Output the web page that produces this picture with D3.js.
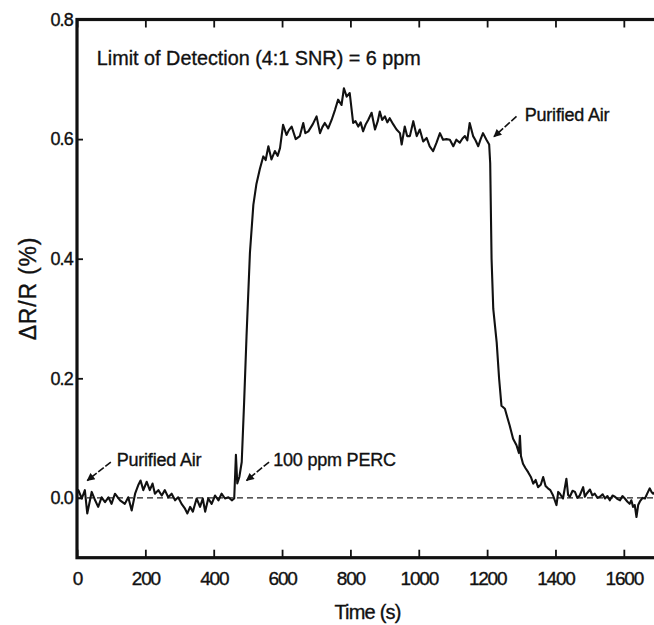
<!DOCTYPE html>
<html>
<head>
<meta charset="utf-8">
<script src="https://cdn.jsdelivr.net/npm/d3@7"></script>
<style>
  html, body { margin: 0; padding: 0; background: #fff; }
  svg { display: block; font-family: "Liberation Sans", Arial, sans-serif; }
  svg text { stroke: #111; stroke-width: 0.35px; }
</style>
</head>
<body>
<svg id="chart" width="654" height="625"></svg>
<script>
// time (s) and response (dR/R, %)
const times = [
  0, 4, 14, 23, 30, 43, 53, 62, 72, 82, 92, 101, 111, 126, 140, 150, 160, 170, 179, 186,
  194, 204, 213, 221, 228, 238, 248, 257, 267, 277, 287, 296, 306, 316, 323, 331, 339, 350, 360, 368,
  375, 384, 394, 404, 414, 423, 433, 443, 453, 460, 465, 469, 475, 482, 489, 496, 506, 516, 525, 535,
  545, 552, 560, 569, 579, 587, 594, 603, 613, 620, 628, 640, 652, 662, 668, 677, 690, 701, 711, 718,
  725, 735, 745, 755, 764, 774, 781, 789, 798, 808, 815, 823, 830, 837, 845, 852, 862, 872, 880, 886,
  893, 901, 908, 915, 925, 935, 945, 950, 959, 966, 974, 984, 994, 1003, 1013, 1023, 1032, 1042, 1052, 1062,
  1071, 1081, 1091, 1101, 1110, 1120, 1128, 1135, 1142, 1149, 1159, 1166, 1174, 1181, 1188, 1198, 1206, 1209, 1213, 1218,
  1228, 1235, 1242, 1252, 1259, 1266, 1276, 1286, 1293, 1296, 1299, 1305, 1312, 1320, 1328, 1335, 1342, 1349, 1357, 1364,
  1371, 1378, 1385, 1393, 1403, 1408, 1413, 1422, 1432, 1437, 1442, 1450, 1457, 1464, 1471, 1481, 1486, 1491, 1501, 1508,
  1515, 1523, 1530, 1538, 1545, 1552, 1559, 1567, 1574, 1582, 1589, 1596, 1603, 1610, 1617, 1622, 1627, 1632, 1637, 1642,
  1647, 1655, 1662, 1669, 1676, 1681, 1686, 1695
];
const response = [
  0.007, 0.013, -0.001, 0.013, -0.026, 0.010, -0.004, -0.015, 0.001, -0.007, 0.001, -0.010, 0.007, -0.004, -0.010, 0.001, -0.021, 0.007, 0.021, 0.029,
  0.013, 0.027, 0.013, 0.024, 0.007, 0.013, 0.004, 0.013, 0.001, 0.007, -0.004, 0.001, -0.010, -0.018, -0.026, -0.015, -0.023, -0.001, -0.015, -0.001,
  -0.023, -0.001, -0.010, 0.004, -0.004, 0.007, -0.001, 0.001, -0.004, -0.001, 0.072, 0.024, 0.035, 0.060, 0.160, 0.270, 0.410, 0.490, 0.525, 0.550,
  0.571, 0.565, 0.588, 0.566, 0.580, 0.572, 0.585, 0.624, 0.607, 0.615, 0.621, 0.600, 0.605, 0.627, 0.610, 0.613, 0.625, 0.638, 0.610, 0.620,
  0.627, 0.618, 0.632, 0.649, 0.666, 0.657, 0.685, 0.671, 0.677, 0.627, 0.630, 0.621, 0.628, 0.613, 0.625, 0.632, 0.644, 0.616, 0.630, 0.646,
  0.632, 0.638, 0.628, 0.635, 0.625, 0.616, 0.610, 0.591, 0.621, 0.605, 0.605, 0.630, 0.605, 0.616, 0.596, 0.602, 0.588, 0.580, 0.594, 0.610,
  0.599, 0.600, 0.599, 0.588, 0.599, 0.594, 0.601, 0.605, 0.598, 0.627, 0.605, 0.598, 0.588, 0.600, 0.610, 0.599, 0.591, 0.560, 0.400, 0.316,
  0.260, 0.200, 0.154, 0.149, 0.135, 0.121, 0.099, 0.088, 0.075, 0.104, 0.070, 0.057, 0.050, 0.043, 0.035, 0.024, 0.030, 0.018, 0.022, 0.035,
  0.020, 0.016, 0.013, 0.004, -0.012, 0.010, 0.007, -0.001, 0.032, 0.005, 0.002, 0.012, 0.010, 0.000, 0.004, 0.018, 0.002, 0.007, 0.014, 0.004,
  0.007, 0.000, 0.002, 0.006, -0.001, 0.003, -0.004, 0.004, 0.002, -0.002, -0.004, 0.003, -0.001, -0.006, -0.010, -0.004, -0.015, -0.012, -0.032, -0.012,
  -0.006, 0.000, -0.001, 0.008, 0.016, 0.010, 0.007, 0.012
];

const xTicks = [0, 200, 400, 600, 800, 1000, 1200, 1400, 1600];
const yTicks = [0.0, 0.2, 0.4, 0.6, 0.8];

// annotation anchors in data units
const notes = [
  { text: "Purified Air", tx: 116, ty: 0.054, from: [99, 0.060], to: [30, 0.029] },
  { text: "100 ppm PERC", tx: 574, ty: 0.054, from: [562, 0.060], to: [496, 0.029] },
  { text: "Purified Air", tx: 1310, ty: 0.630, from: [1286, 0.638], to: [1220, 0.604] },
];

const svg = d3.select("#chart");
const plotLeft = 77, plotTop = 19.5, plotRight = 658, plotBottom = 557.7;

const x = d3.scaleLinear().domain([0, 1700]).range([plotLeft, plotRight]);
const y = d3.scaleLinear().domain([-0.1, 0.8]).range([plotBottom, plotTop]);

const defs = svg.append("defs");
defs.append("marker")
  .attr("id", "head")
  .attr("viewBox", "0 0 10 10")
  .attr("refX", 9)
  .attr("refY", 5)
  .attr("markerWidth", 10)
  .attr("markerHeight", 8)
  .attr("markerUnits", "userSpaceOnUse")
  .attr("orient", "auto")
  .append("path")
  .attr("d", "M0,0 L10,5 L0,10 Z")
  .attr("fill", "#111");

// zero line
svg.append("line")
  .attr("x1", x(0)).attr("x2", x(1700))
  .attr("y1", y(0)).attr("y2", y(0))
  .attr("stroke", "#222")
  .attr("stroke-width", 1.4)
  .attr("stroke-dasharray", "6,4");

// trace
const pts = times.map((t, i) => [t, response[i]]);
svg.append("path")
  .datum(pts)
  .attr("fill", "none")
  .attr("stroke", "#111")
  .attr("stroke-width", 2.1)
  .attr("stroke-linejoin", "round")
  .attr("d", d3.line().x(d => x(d[0])).y(d => y(d[1])));

// axes (ticks point inward)
const styleAxis = (g) => {
  g.select(".domain").remove();
  g.selectAll(".tick line").attr("stroke", "#111").attr("stroke-width", 1.8);
  g.selectAll("text").attr("fill", "#111");
};

svg.append("g")
  .attr("transform", `translate(0,${plotBottom})`)
  .call(d3.axisBottom(x).tickValues(xTicks).tickSize(-8).tickPadding(14).tickFormat(d3.format("d")))
  .call(styleAxis)
  .call(g => g.selectAll("text")
    .style("font-size", "19px")
    .style("letter-spacing", "-1.2px"));

svg.append("g")
  .attr("transform", `translate(0,${plotTop})`)
  .call(d3.axisTop(x).tickValues(xTicks).tickSize(-8).tickFormat(""))
  .call(styleAxis);

svg.append("g")
  .attr("transform", `translate(${plotLeft},0)`)
  .call(d3.axisLeft(y).tickValues(yTicks).tickSize(-6).tickPadding(4).tickFormat(d3.format(".1f")))
  .call(styleAxis)
  .call(g => g.selectAll("text")
    .style("font-size", "18px")
    .style("letter-spacing", "-0.8px"));

// frame
svg.append("rect")
  .attr("x", plotLeft).attr("y", plotTop)
  .attr("width", plotRight - plotLeft).attr("height", plotBottom - plotTop)
  .attr("fill", "none")
  .attr("stroke", "#111")
  .attr("stroke-width", 3.2);

// axis titles
svg.append("text")
  .attr("x", (plotLeft + plotRight) / 2)
  .attr("y", 619)
  .attr("text-anchor", "middle")
  .attr("fill", "#111")
  .style("font-size", "20px")
  .style("letter-spacing", "-0.8px")
  .text("Time (s)");

svg.append("text")
  .attr("transform", `translate(36,${(plotTop + plotBottom) / 2}) rotate(-90)`)
  .attr("text-anchor", "middle")
  .attr("fill", "#111")
  .style("font-size", "23px")
  .style("letter-spacing", "0.8px")
  .text("ΔR/R (%)");

// detection limit note
svg.append("text")
  .attr("x", x(58))
  .attr("y", y(0.724))
  .attr("fill", "#111")
  .attr("textLength", 324)
  .attr("lengthAdjust", "spacingAndGlyphs")
  .style("font-size", "20px")
  .text("Limit of Detection (4:1 SNR) = 6 ppm");

// arrows + labels
const ann = svg.selectAll(".note").data(notes).enter().append("g").attr("class", "note");
ann.append("line")
  .attr("x1", d => x(d.from[0])).attr("y1", d => y(d.from[1]))
  .attr("x2", d => x(d.to[0])).attr("y2", d => y(d.to[1]))
  .attr("stroke", "#111")
  .attr("stroke-width", 1.6)
  .attr("stroke-dasharray", "7,2")
  .attr("marker-end", "url(#head)");
ann.append("text")
  .attr("x", d => x(d.tx))
  .attr("y", d => y(d.ty))
  .attr("fill", "#111")
  .style("font-size", "18px")
  .style("letter-spacing", "-0.2px")
  .text(d => d.text);
</script>
</body>
</html>
